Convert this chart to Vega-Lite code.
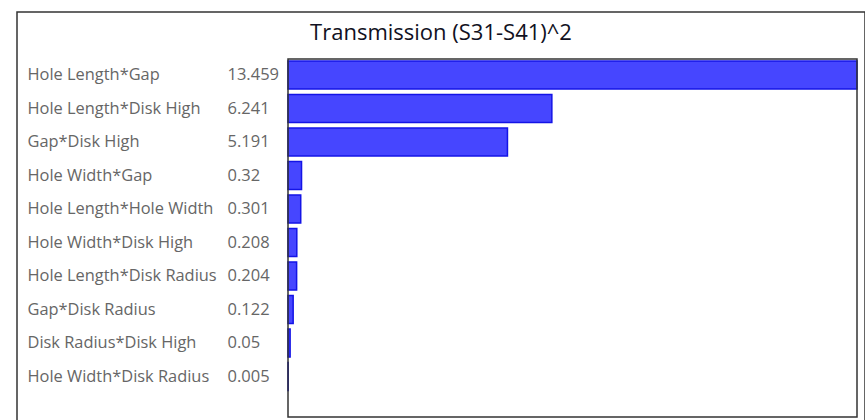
{
  "$schema": "https://vega.github.io/schema/vega-lite/v6.json",
  "width": 848,
  "height": 412,
  "padding": {"left": 17, "top": 12, "right": 0, "bottom": 0},
  "background": "white",
  "title": {
    "text": "Transmission (S31-S41)^2",
    "anchor": "middle",
    "offset": -33,
    "font": "Open Sans",
    "fontSize": 22,
    "fontWeight": "normal",
    "color": "#111122"
  },
  "data": {
    "values": [
      {"term": "Hole Length*Gap", "value": 13.459, "label": "13.459"},
      {"term": "Hole Length*Disk High", "value": 6.241, "label": "6.241"},
      {"term": "Gap*Disk High", "value": 5.191, "label": "5.191"},
      {"term": "Hole Width*Gap", "value": 0.32, "label": "0.32"},
      {"term": "Hole Length*Hole Width", "value": 0.301, "label": "0.301"},
      {"term": "Hole Width*Disk High", "value": 0.208, "label": "0.208"},
      {"term": "Hole Length*Disk Radius", "value": 0.204, "label": "0.204"},
      {"term": "Gap*Disk Radius", "value": 0.122, "label": "0.122"},
      {"term": "Disk Radius*Disk High", "value": 0.05, "label": "0.05"},
      {"term": "Hole Width*Disk Radius", "value": 0.005, "label": "0.005"}
    ]
  },
  "layer": [
    {
      "mark": {"type": "bar", "fill": "#4646ff", "stroke": "#1414e6", "strokeWidth": 1.5},
      "encoding": {
        "y": {
          "field": "term", "type": "nominal", "sort": null,
          "scale": {"range": [46.25, 381.25], "paddingInner": 0.16, "paddingOuter": 0.08},
          "axis": {
            "orient": "left", "title": null, "domain": false, "ticks": false, "tickSize": 0, "grid": false,
            "labelAlign": "left", "labelPadding": -10, "labelFont": "Open Sans", "labelFontSize": 16.4,
            "labelColor": "#666666", "labelLimit": 300
          }
        },
        "x": {
          "field": "value", "type": "quantitative",
          "scale": {"domain": [0, 13.459], "range": [271, 840], "nice": false, "zero": true},
          "axis": null
        }
      }
    },
    {
      "mark": {"type": "bar", "opacity": 0},
      "encoding": {
        "y": {
          "field": "label", "type": "nominal", "sort": null,
          "scale": {"range": [46.25, 381.25], "paddingInner": 0.16, "paddingOuter": 0.08},
          "axis": {
            "orient": "left", "title": null, "domain": false, "ticks": false, "tickSize": 0, "grid": false,
            "labelAlign": "left", "labelPadding": -210, "labelFont": "Open Sans", "labelFontSize": 16.5,
            "labelColor": "#666666"
          }
        },
        "x": {"field": "value", "type": "quantitative"}
      }
    },
    {
      "data": {"values": [{"frame": "plot"}]},
      "mark": {"type": "rect", "fill": null, "stroke": "#333333", "strokeWidth": 1.5},
      "encoding": {
        "x": {"datum": 0, "type": "quantitative"},
        "x2": {"datum": 13.459},
        "y": {"datum": 0, "type": "quantitative", "scale": {"domain": [0, 1], "range": [47, 405], "nice": false}, "axis": null},
        "y2": {"datum": 1}
      }
    }
  ],
  "resolve": {"scale": {"y": "independent"}, "axis": {"y": "independent"}},
  "config": {
    "view": {"stroke": "#333333", "strokeWidth": 1.5}
  }
}
